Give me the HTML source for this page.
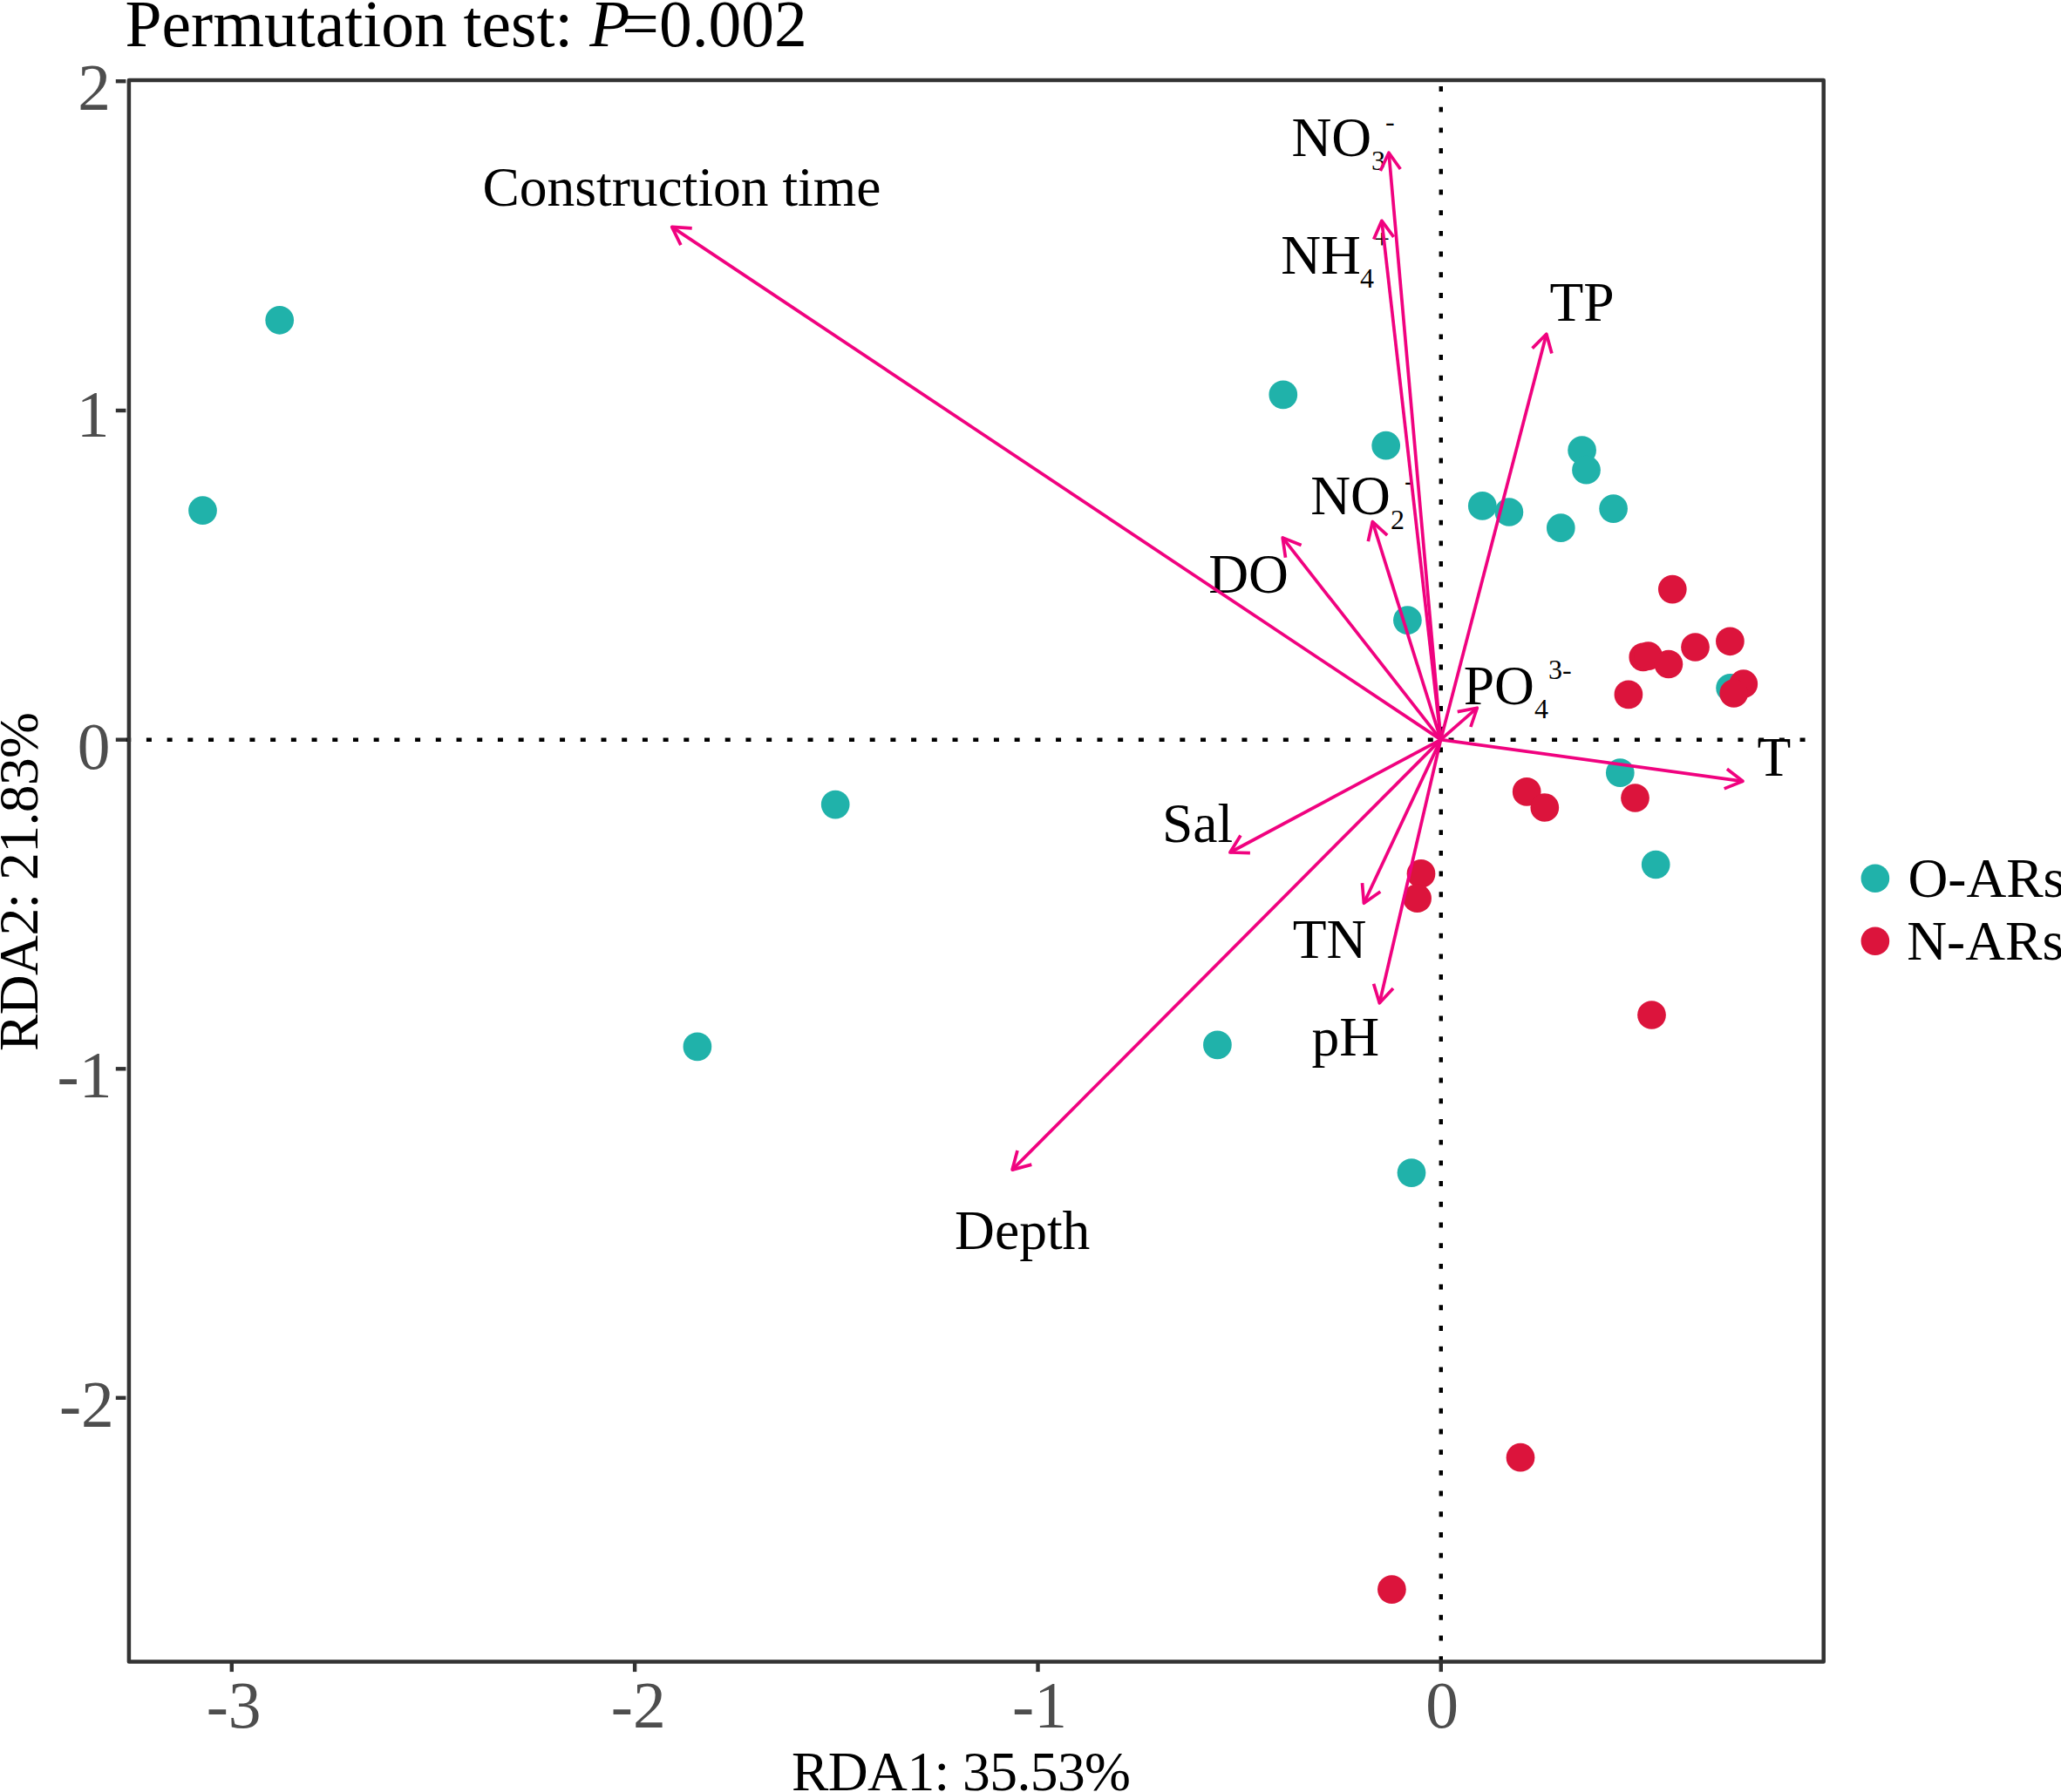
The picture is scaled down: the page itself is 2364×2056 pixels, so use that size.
<!DOCTYPE html>
<html lang="en"><head><meta charset="utf-8"><title>RDA ordination plot</title>
<style>html,body{margin:0;padding:0;background:#fff}body{width:2364px;height:2056px;overflow:hidden}svg{display:block}text{font-family:"Liberation Serif","Times New Roman",serif}</style></head><body>
<svg width="2364" height="2056" viewBox="0 0 2364 2056">
<rect width="2364" height="2056" fill="#fff"/>
<text id="title" x="143.6" y="52.9" font-size="75.5" fill="#000">Permutation test: <tspan font-style="italic">P</tspan><tspan dx="-9">=0.002</tspan></text>
<g stroke="#000" stroke-width="4.4" fill="none">
<line x1="144.2" y1="848.8" x2="2088.0" y2="848.8" stroke-dasharray="6 17.708"/>
<line x1="1652.8" y1="99.0" x2="1652.8" y2="1906.4" stroke-dasharray="5.9 17.8"/>
</g>
<g fill="#20B2AA">
<circle cx="320.7" cy="367.3" r="16.35"/>
<circle cx="232.5" cy="585.7" r="16.35"/>
<circle cx="958.2" cy="923.1" r="16.35"/>
<circle cx="799.9" cy="1200.9" r="16.35"/>
<circle cx="1396.4" cy="1198.9" r="16.35"/>
<circle cx="1471.8" cy="452.9" r="16.35"/>
<circle cx="1589.7" cy="511.2" r="16.35"/>
<circle cx="1814.6" cy="516.5" r="16.35"/>
<circle cx="1819.5" cy="539.2" r="16.35"/>
<circle cx="1700.3" cy="580.4" r="16.35"/>
<circle cx="1730.9" cy="587.5" r="16.35"/>
<circle cx="1790.3" cy="605.7" r="16.35"/>
<circle cx="1850.6" cy="583.6" r="16.35"/>
<circle cx="1614.4" cy="711.6" r="16.35"/>
<circle cx="1984.6" cy="789.3" r="16.35"/>
<circle cx="1858.3" cy="886.6" r="16.35"/>
<circle cx="1899.2" cy="992.0" r="16.35"/>
<circle cx="1619.0" cy="1345.6" r="16.35"/>
</g><g fill="#DC143C">
<circle cx="1918.3" cy="676.1" r="16.35"/>
<circle cx="1984.4" cy="735.8" r="16.35"/>
<circle cx="1944.5" cy="742.5" r="16.35"/>
<circle cx="1884.8" cy="753.9" r="16.35"/>
<circle cx="1890.6" cy="752.7" r="16.35"/>
<circle cx="1913.9" cy="762.0" r="16.35"/>
<circle cx="1867.9" cy="796.9" r="16.35"/>
<circle cx="1999.8" cy="784.7" r="16.35"/>
<circle cx="1988.7" cy="795.5" r="16.35"/>
<circle cx="1751.2" cy="908.4" r="16.35"/>
<circle cx="1771.8" cy="926.5" r="16.35"/>
<circle cx="1875.5" cy="915.5" r="16.35"/>
<circle cx="1630.0" cy="1002.4" r="16.35"/>
<circle cx="1625.6" cy="1030.7" r="16.35"/>
<circle cx="1894.5" cy="1164.5" r="16.35"/>
<circle cx="1744.0" cy="1672.2" r="16.35"/>
<circle cx="1596.4" cy="1823.6" r="16.35"/>
</g>
<g font-size="63.5" fill="#000">
<text id="l_ct" x="553.5" y="236.4">Construction time</text>
<text id="l_no3" x="1481.4" y="179">NO<tspan font-size="32" dy="16">3</tspan><tspan font-size="32" dy="-45">-</tspan></text>
<text id="l_nh4" x="1469.2" y="313.8">NH<tspan font-size="32" dx="-0.8" dy="15.7">4</tspan><tspan font-size="32" dy="-45">+</tspan></text>
<text id="l_tp" x="1777.5" y="368.2">TP</text>
<text id="l_no2" x="1503.2" y="590.2">NO<tspan font-size="32" dy="16.6">2</tspan><tspan font-size="32" dy="-45">-</tspan></text>
<text id="l_do" x="1386.2" y="679.6">DO</text>
<text id="l_po4" x="1678.7" y="808">PO<tspan font-size="32" dy="15.7">4</tspan><tspan font-size="32" dy="-44.7">3-</tspan></text>
<text id="l_t" x="2015.5" y="889.5">T</text>
<text id="l_sal" x="1333" y="965.6">Sal</text>
<text id="l_tn" x="1482.8" y="1098.7">TN</text>
<text id="l_ph" x="1504.6" y="1210.8">pH</text>
<text id="l_depth" x="1095.1" y="1433.3">Depth</text>
</g>
<g stroke="#F0027F" stroke-width="3.7" fill="none" stroke-linejoin="round">
<path d="M1652.6 848.6L770.7 260.4"/>
<path d="M780.9 281.1L770.7 260.4L793.7 261.9"/>
<path d="M1652.6 848.6L1593.0 175.2"/>
<path d="M1583.3 196.0L1593.0 175.2L1606.3 194.0"/>
<path d="M1652.6 848.6L1584.9 253.3"/>
<path d="M1575.7 274.4L1584.9 253.3L1598.6 271.8"/>
<path d="M1652.6 848.6L1773.8 383.2"/>
<path d="M1757.6 399.6L1773.8 383.2L1779.9 405.4"/>
<path d="M1652.6 848.6L1574.3 598.6"/>
<path d="M1569.3 621.1L1574.3 598.6L1591.2 614.2"/>
<path d="M1652.6 848.6L1471.2 616.9"/>
<path d="M1474.5 639.7L1471.2 616.9L1492.6 625.5"/>
<path d="M1652.6 848.6L1694.3 812.2"/>
<path d="M1671.7 816.6L1694.3 812.2L1686.9 834.0"/>
<path d="M1652.6 848.6L1999.0 896.3"/>
<path d="M1980.9 882.2L1999.0 896.3L1977.7 904.9"/>
<path d="M1652.6 848.6L1410.9 978.0"/>
<path d="M1433.9 978.7L1410.9 978.0L1423.0 958.5"/>
<path d="M1652.6 848.6L1564.4 1036.2"/>
<path d="M1583.3 1023.0L1564.4 1036.2L1562.5 1013.2"/>
<path d="M1652.6 848.6L1582.3 1150.8"/>
<path d="M1598.0 1134.0L1582.3 1150.8L1575.6 1128.8"/>
<path d="M1652.6 848.6L1161.1 1342.1"/>
<path d="M1183.3 1336.1L1161.1 1342.1L1167.0 1319.9"/>
</g>
<rect x="147.9" y="92.0" width="1943.8" height="1814.4" fill="none" stroke="#333" stroke-linejoin="round" stroke-width="4.5"/>
<g stroke="#333" stroke-width="4.4">
<line x1="132.8" y1="93.2" x2="144.4" y2="93.2"/>
<line x1="132.8" y1="471.0" x2="144.4" y2="471.0"/>
<line x1="132.8" y1="848.7" x2="144.4" y2="848.7"/>
<line x1="132.8" y1="1226.3" x2="144.4" y2="1226.3"/>
<line x1="132.8" y1="1603.8" x2="144.4" y2="1603.8"/>
<line x1="265.8" y1="1906.4" x2="265.8" y2="1918.1"/>
<line x1="728.1" y1="1906.4" x2="728.1" y2="1918.1"/>
<line x1="1190.5" y1="1906.4" x2="1190.5" y2="1918.1"/>
<line x1="1652.8" y1="1906.4" x2="1652.8" y2="1918.1"/>
</g>
<g font-size="75.5" fill="#4d4d4d">
<text x="127.0" y="126.2" text-anchor="end">2</text>
<text x="125.5" y="500.7" text-anchor="end">1</text>
<text x="126.5" y="881.7" text-anchor="end">0</text>
<text x="128.5" y="1259.0" text-anchor="end">-1</text>
<text x="130.8" y="1636.5" text-anchor="end">-2</text>
<text x="268.1" y="1981.6" text-anchor="middle">-3</text>
<text x="732.3" y="1981.6" text-anchor="middle">-2</text>
<text x="1192.5" y="1981.6" text-anchor="middle">-1</text>
<text x="1654.1" y="1981.6" text-anchor="middle">0</text>
</g>
<text id="xlab" x="908" y="2053.5" font-size="63.5" textLength="389" fill="#000">RDA1: 35.53%</text>
<text id="ylab" transform="translate(42.6 1206) rotate(-90)" font-size="63.5" textLength="389" fill="#000">RDA2: 21.83%</text>
<circle cx="2150.9" cy="1007.7" r="16.3" fill="#20B2AA"/><circle cx="2150.9" cy="1079.7" r="16.3" fill="#DC143C"/>
<text id="lg1" x="2188.4" y="1028.8" font-size="63.5" fill="#000">O-ARs</text>
<text id="lg2" x="2187.2" y="1100.6" font-size="63.5" fill="#000">N-ARs</text>
</svg></body></html>
